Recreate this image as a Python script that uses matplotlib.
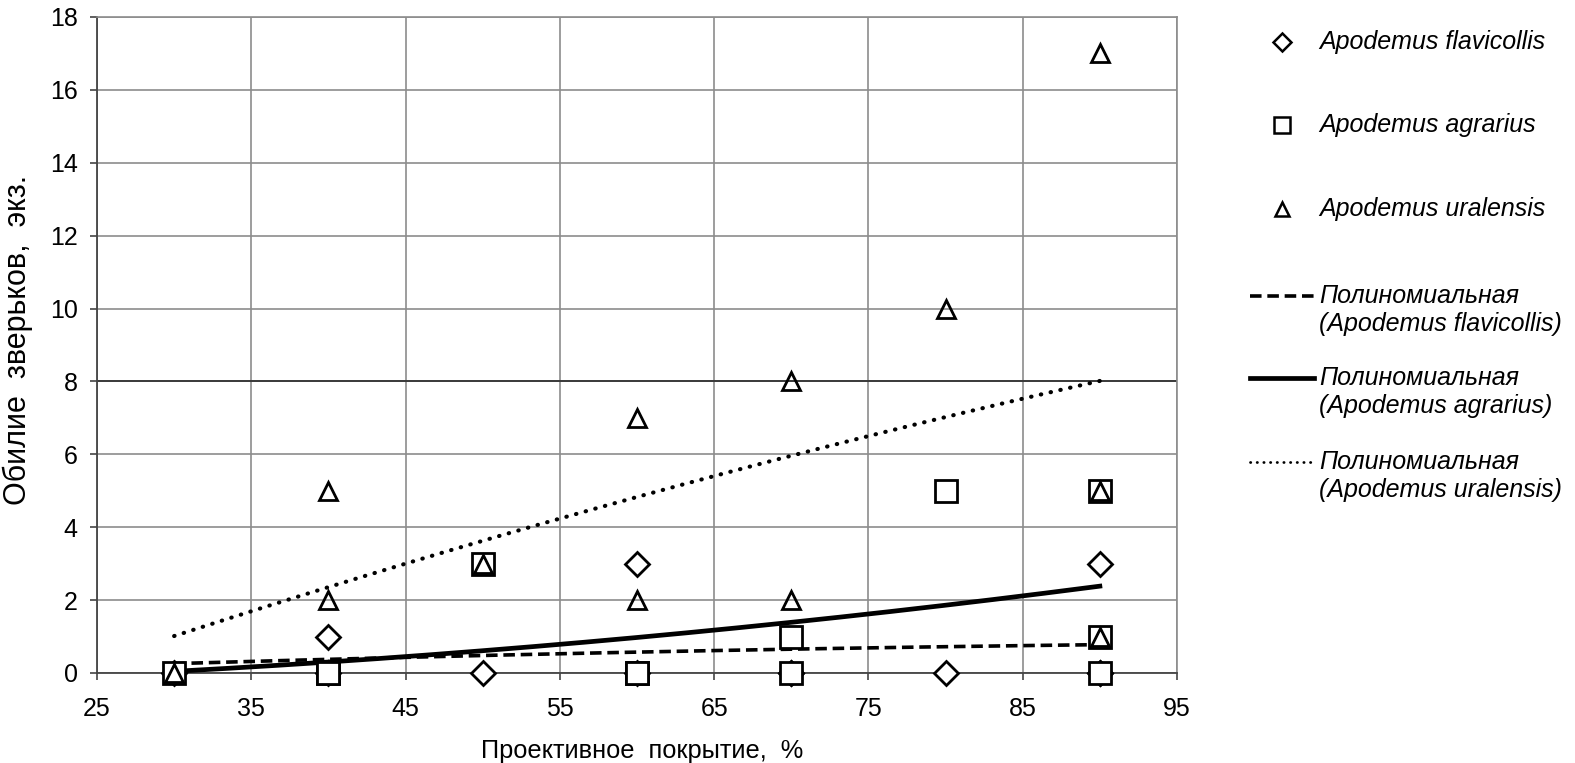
import matplotlib.pyplot as plt
import numpy as np
from matplotlib.lines import Line2D

plt.rcParams['font.family'] = ['Liberation Sans', 'DejaVu Sans']

# observations: projective cover (%) vs abundance, 12 samples
cover = [30, 40, 40, 50, 60, 60, 70, 70, 80, 90, 90, 90]
flav_y = [0, 1, 0, 0, 3, 0, 0, 0, 0, 3, 0, 0]
agr_y = [0, 0, 0, 3, 0, 0, 0, 1, 5, 5, 1, 0]
ural_y = [0, 5, 2, 3, 7, 2, 8, 2, 10, 17, 5, 1]

names = ["Apodemus flavicollis", "Apodemus agrarius", "Apodemus uralensis"]
W, H = 1575, 763

fig = plt.figure(figsize=(15.75, 7.63), dpi=100)
ax = fig.add_axes([97 / W, 1 - 673 / H, 1080 / W, 656 / H])

dash = (0, (3.2, 1.6))
dots = (0, (0.1, 2.3))

# polynomial trend lines (2nd order, like excel)
xs = np.linspace(30, 90, 200)
ax.plot(xs, np.polyval(np.polyfit(cover, flav_y, 2), xs), color='black', lw=2.6, ls=dash, zorder=3)
ax.plot(xs, np.polyval(np.polyfit(cover, agr_y, 2), xs), color='black', lw=3.4, zorder=3)
ax.plot(xs, np.polyval(np.polyfit(cover, ural_y, 2), xs), color='black', lw=3.0, ls=dots,
        dash_capstyle='round', zorder=3)

ax.plot(cover, flav_y, ls='none', marker='D', ms=12, mfc='white', mec='black', mew=2,
        zorder=4, clip_on=False)
ax.plot(cover, agr_y, ls='none', marker='s', ms=16.5, mfc='white', mec='black', mew=2,
        zorder=5, clip_on=False)
ax.plot(cover, ural_y, ls='none', marker='^', ms=13, mfc='none', mec='black', mew=2,
        zorder=6, clip_on=False)

ax.set_xlim(25, 95)
ax.set_ylim(0, 18)
ax.set_xticks(np.arange(25, 96, 10))
ax.set_yticks(np.arange(0, 19, 2))
ax.grid(True, color='#8c8c8c', lw=1.2)
ax.axhline(8, color='#333333', lw=1.3, zorder=1)
ax.set_axisbelow(True)
for s in ['top', 'right']:
    ax.spines[s].set_color('#8c8c8c')
    ax.spines[s].set_linewidth(1.2)
for s in ['left', 'bottom']:
    ax.spines[s].set_color('#444444')
    ax.spines[s].set_linewidth(1.3)
ax.tick_params(labelsize=18, length=5, width=1.2, color='#444444')
ax.tick_params(axis='x', pad=12)
ax.tick_params(axis='y', pad=9)
ax.set_xlabel("Проективное  покрытие,  %", fontsize=18.3)
ax.set_ylabel("Обилие  зверьков,  экз.", fontsize=22)
ax.xaxis.set_label_coords(0.505, -0.101)
ax.yaxis.set_label_coords(-0.059, 0.508)

# legend, laid out by hand like the excel one
tf = fig.transFigure
mk = [('D', 9.5), ('s', 11), ('^', 10)]
for (m, s), n, y in zip(mk, names, [42, 125, 209]):
    fig.add_artist(Line2D([1282 / W], [1 - y / H], transform=tf, ls='none', marker=m, ms=s,
                          mfc='white', mec='black', mew=1.8))
    fig.text(1319 / W, 1 - y / H, n, fontsize=18, style='italic', va='center')

lines = [dict(lw=2.6, ls=dash), dict(lw=3.4, ls='-'), dict(lw=2.0, ls=dots, dash_capstyle='round')]
for kw, n, y in zip(lines, names, [296, 378, 462]):
    fig.add_artist(Line2D([1250 / W, 1314 / W], [1 - y / H, 1 - y / H], transform=tf,
                          color='black', **kw))
    fig.text(1319 / W, 1 - y / H, "Полиномиальная", fontsize=18, style='italic', va='center')
    fig.text(1319 / W, 1 - (y + 28) / H, "(" + n + ")", fontsize=18, style='italic', va='center')

fig.savefig("out.png", dpi=100)
